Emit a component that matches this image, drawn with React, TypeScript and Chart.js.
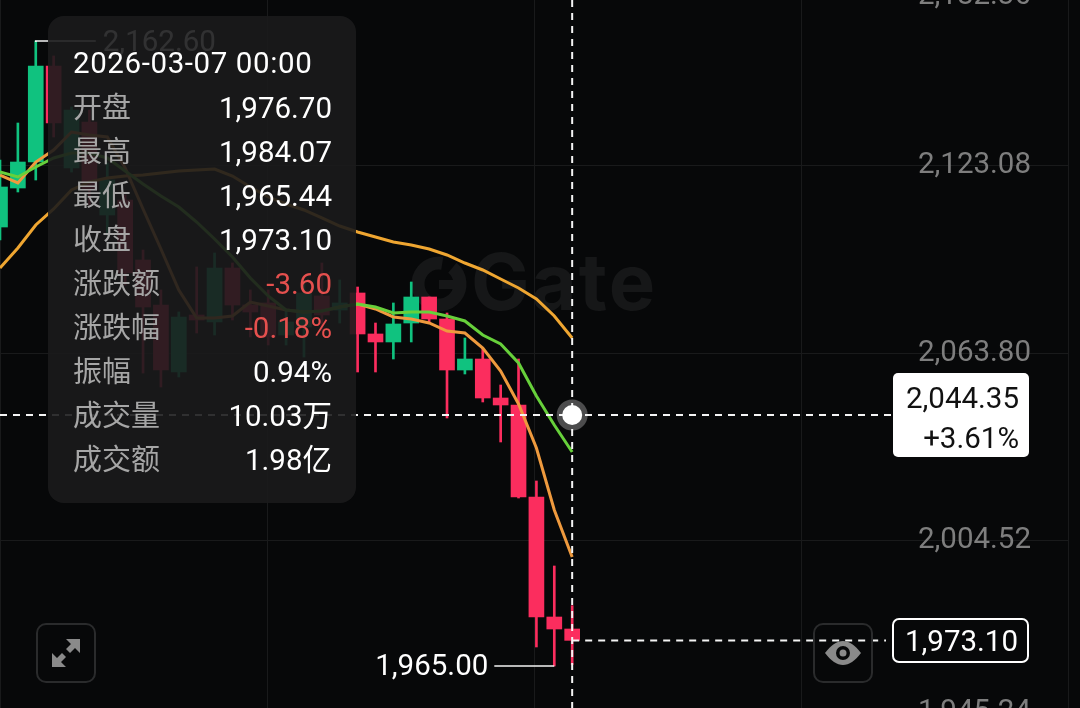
import React, { useEffect, useRef } from "react";
import { Chart, registerables } from "chart.js";

Chart.register(...registerables);

const opens = [2103.79, 2116.12, 2124.34, 2154.7, 2122.45, 2136.99, 2107.59, 2112.33, 2093.36, 2079.13, 2057.95, 2075.97, 2073.76, 2090.83, 2079.13, 2079.77, 2069.65, 2072.18, 2081.98, 2077.55, 2082.93, 2069.97, 2067.44, 2073.44, 2081.66, 2074.71, 2058.58, 2062.06, 2049.73, 2047.52, 2018.43, 1980.49, 1976.7];
const highs = [2124.98, 2136.67, 2162.6, 2157.86, 2141.73, 2140.79, 2124.03, 2113.91, 2096.52, 2083.88, 2076.92, 2091.15, 2095.57, 2092.41, 2083.88, 2083.88, 2077.55, 2087.04, 2092.41, 2087.04, 2084.82, 2073.44, 2079.77, 2086.41, 2081.66, 2076.6, 2068.7, 2065.54, 2053.84, 2062.06, 2023.49, 1996.62, 1984.07];
const lows = [2099.68, 2114.86, 2118.65, 2132.25, 2121.18, 2110.75, 2101.27, 2085.46, 2057.63, 2053.21, 2056.37, 2070.28, 2069.65, 2074.39, 2069.02, 2066.49, 2066.49, 2062.69, 2071.23, 2073.44, 2057.95, 2057.95, 2062.06, 2067.44, 2073.76, 2043.41, 2057.32, 2048.47, 2035.82, 2018.11, 1971.01, 1965.0, 1965.44];
const closes = [2116.44, 2124.34, 2154.7, 2136.67, 2140.79, 2115.49, 2118.65, 2089.25, 2078.5, 2058.58, 2075.34, 2074.39, 2090.83, 2079.13, 2076.92, 2069.02, 2073.76, 2082.93, 2075.97, 2079.77, 2069.97, 2067.44, 2073.13, 2081.66, 2074.71, 2058.58, 2062.06, 2049.73, 2047.52, 2018.43, 1980.49, 1976.7, 1973.1];

const maLong = [2090.83, 2097.15, 2104.43, 2109.49, 2115.49, 2118.02, 2119.29, 2119.92, 2120.23, 2120.87, 2121.5, 2121.82, 2122.13, 2119.92, 2116.44, 2113.28, 2111.07, 2109.17, 2106.64, 2104.11, 2102.21, 2100.63, 2099.05, 2098.1, 2096.84, 2094.94, 2092.41, 2090.2, 2087.35, 2084.51, 2081.03, 2075.66, 2068.7];
const maShort = [2120.23, 2117.71, 2124.34, 2128.14, 2133.83, 2132.88, 2132.25, 2122.45, 2109.49, 2096.84, 2083.88, 2075.02, 2075.02, 2075.66, 2080.08, 2078.82, 2077.55, 2076.92, 2077.24, 2078.5, 2079.45, 2077.87, 2075.34, 2074.71, 2073.44, 2070.91, 2070.28, 2065.54, 2058.27, 2047.83, 2033.92, 2014.32, 1999.46];
const maMid = [2121.18, 2119.6, 2122.76, 2125.61, 2127.19, 2127.19, 2125.61, 2121.5, 2117.39, 2113.6, 2110.12, 2105.37, 2100.0, 2094.31, 2087.67, 2081.98, 2077.55, 2076.92, 2077.24, 2078.5, 2079.45, 2078.5, 2076.6, 2076.92, 2076.92, 2075.66, 2074.08, 2069.65, 2066.8, 2060.8, 2050.36, 2041.19, 2032.66];

const yTickAnchors = [2176.51, 2123.08, 2063.8, 2004.52, 1950.14];
const yTickLabels = ["2,182.36", "2,123.08", "2,063.80", "2,004.52", "1,945.24"];
const gridColumns = [0, 267, 534, 801, 1068];

const crosshairIndex = 32;
const crosshairPrice = 2044.35;
const lastPrice = 1973.1;
const highestIndex = 2;
const highestPrice = 2162.6;
const lowestIndex = 31;
const lowestPrice = 1965.0;

const panelTitle = "2026-03-07 00:00";
const panelKeys = ["开盘", "最高", "最低", "收盘", "涨跌额", "涨跌幅", "振幅", "成交量", "成交额"];
const panelValues = ["1,976.70", "1,984.07", "1,965.44", "1,973.10", "-3.60", "-0.18%", "0.94%", "10.03万", "1.98亿"];
const panelNegative = ["-3.60", "-0.18%"];

const UP = "#10c27f";
const DOWN = "#fb2d5e";
const FONT = 'Roboto, "Noto Sans CJK SC", sans-serif';
const PAGE = "#070809";

const candleColors = opens.map((o, i) => (closes[i] >= o ? UP : DOWN));

const markupPlugin = {
  id: "markup",
  beforeDatasetsDraw(chart: any) {
    const { ctx } = chart;
    ctx.save();
    ctx.fillStyle = "#161718";
    ctx.strokeStyle = "#161718";
    ctx.lineWidth = 13;
    ctx.beginPath();
    ctx.arc(439, 284, 21, -Math.PI * 0.28, Math.PI * 1.55);
    ctx.stroke();
    ctx.fillRect(439, 280, 22, 9);
    ctx.font = `700 78px Inter, sans-serif`;
    (ctx as any).letterSpacing = "2px";
    ctx.textAlign = "left";
    ctx.textBaseline = "alphabetic";
    ctx.fillText("Gate", 471, 310);
    ctx.restore();
  },
  afterDatasetsDraw(chart: any) {
    const { ctx, scales } = chart;
    const x = scales.x;
    const y = scales.y;
    const cx = x.getPixelForValue(crosshairIndex);
    const cy = y.getPixelForValue(crosshairPrice);
    const ly = y.getPixelForValue(lastPrice);
    const hy = y.getPixelForValue(highestPrice);
    const hx = x.getPixelForValue(highestIndex);
    const lowY = y.getPixelForValue(lowestPrice);
    const lowX = x.getPixelForValue(lowestIndex);
    ctx.save();
    ctx.strokeStyle = "#f4f4f4";
    ctx.lineWidth = 2;
    ctx.setLineDash([7, 6]);
    ctx.beginPath();
    ctx.moveTo(cx, 0);
    ctx.lineTo(cx, 708);
    ctx.moveTo(0, cy);
    ctx.lineTo(893, cy);
    ctx.moveTo(cx, ly);
    ctx.lineTo(886, ly);
    ctx.stroke();
    ctx.setLineDash([]);
    ctx.lineWidth = 1.6;
    ctx.beginPath();
    ctx.moveTo(hx, hy + 1);
    ctx.lineTo(hx, hy);
    ctx.lineTo(hx + 60, hy);
    ctx.moveTo(lowX, lowY);
    ctx.lineTo(lowX - 60, lowY);
    ctx.stroke();
    ctx.font = `400 29.5px ${FONT}`;
    ctx.textBaseline = "middle";
    ctx.fillStyle = "#ffffff";
    ctx.textAlign = "left";
    ctx.fillText("2,162.60", hx + 67, hy + 3);
    ctx.textAlign = "right";
    ctx.fillText("1,965.00", lowX - 66, lowY + 2);
    ctx.fillStyle = "rgba(255,255,255,0.28)";
    ctx.beginPath();
    ctx.arc(cx, cy, 15.5, 0, Math.PI * 2);
    ctx.fill();
    ctx.fillStyle = "#ffffff";
    ctx.beginPath();
    ctx.arc(cx, cy, 10, 0, Math.PI * 2);
    ctx.fill();
    ctx.restore();
  },
};

export default function App() {
  const ref = useRef<HTMLCanvasElement | null>(null);

  useEffect(() => {
    const toPoints = (vals: number[]) => vals.map((v, i) => ({ x: i, y: v }));
    const line = (label: string, vals: number[], color: string, order: number) => ({
      type: "line",
      label,
      data: toPoints(vals),
      borderColor: color,
      borderWidth: 3,
      pointRadius: 0,
      tension: 0,
      order,
      xAxisID: "x",
      yAxisID: "y",
    });
    const chart = new Chart(ref.current as HTMLCanvasElement, {
      type: "bar",
      data: {
        datasets: [
          {
            type: "bar",
            label: "wick",
            data: lows.map((l, i) => ({ x: i, y: [l, highs[i]] })),
            backgroundColor: candleColors,
            barThickness: 2,
            grouped: false,
            order: 5,
            xAxisID: "x",
            yAxisID: "y",
          },
          {
            type: "bar",
            label: "body",
            data: opens.map((o, i) => ({ x: i, y: [o, closes[i]] })),
            backgroundColor: candleColors,
            barThickness: 15,
            grouped: false,
            order: 4,
            xAxisID: "x",
            yAxisID: "y",
          },
          line("MA long", maLong, "#efa631", 3),
          line("MA short", maShort, "#ef9a3e", 2),
          line("MA mid", maMid, "#67d03b", 1),
        ] as any,
      },
      options: {
        responsive: false,
        animation: false,
        layout: { padding: { left: 0, top: 0, bottom: 0, right: 12 } },
        plugins: { legend: { display: false }, tooltip: { enabled: false } },
        scales: {
          x: {
            type: "linear",
            display: false,
            offset: false,
            min: 0,
            max: 59.73,
            grid: { display: false, offset: false },
          },
          gridX: {
            type: "linear",
            axis: "x",
            position: "bottom",
            offset: false,
            min: 0,
            max: 1068,
            afterBuildTicks: (axis: any) => {
              axis.ticks = gridColumns.map((value) => ({ value }));
            },
            afterFit: (axis: any) => {
              axis.height = 0;
              axis.paddingLeft = 0;
              axis.paddingRight = 0;
              axis.paddingTop = 0;
              axis.paddingBottom = 0;
            },
            grid: { color: "#191a1b", lineWidth: 1, drawTicks: false, offset: false },
            border: { display: false },
            ticks: { display: false },
          },
          y: {
            type: "linear",
            position: "right",
            min: 1951.72,
            max: 2175.56,
            afterBuildTicks: (axis: any) => {
              axis.ticks = yTickAnchors.map((value) => ({ value }));
            },
            afterFit: (axis: any) => {
              axis.width = 0;
              axis.paddingLeft = 0;
              axis.paddingRight = 0;
              axis.paddingTop = 0;
              axis.paddingBottom = 0;
            },
            grid: { color: "#191a1b", lineWidth: 1, drawTicks: false },
            border: { display: false },
            ticks: {
              mirror: true,
              padding: -37,
              autoSkip: false,
              color: "#7e7e7e",
              font: { family: FONT, size: 29.5, weight: 400 },
              callback: (_v: any, i: number) => yTickLabels[i],
            },
          },
        },
      } as any,
      plugins: [markupPlugin as any],
    });
    return () => chart.destroy();
  }, []);

  const abs = (o: React.CSSProperties): React.CSSProperties => ({ position: "absolute", ...o });
  const rowY = (i: number) => 107 + i * 44 - 19;

  return (
    <div style={{ position: "fixed", left: 0, top: 0, width: 1080, height: 708, overflow: "hidden", background: PAGE, fontFamily: FONT, fontSize: 29.5 }}>
      <canvas ref={ref} width={1080} height={708} style={{ display: "block", width: 1080, height: 708 }} />
      <div style={abs({ left: 48, top: 16, width: 308, height: 487, borderRadius: 16, background: "rgba(27,27,28,0.9)" })} />
      <div style={abs({ left: 73, top: 43, lineHeight: "40px", color: "#fff", whiteSpace: "nowrap", letterSpacing: 0.6 })}>{panelTitle}</div>
      {panelKeys.map((k, i) => (
        <React.Fragment key={k}>
          <div style={abs({ left: 73, top: rowY(i), lineHeight: "40px", fontSize: 29, color: "#a6a6a6", whiteSpace: "nowrap" })}>{k}</div>
          <div style={abs({ right: 1080 - 332, top: rowY(i), lineHeight: "40px", color: panelNegative.includes(panelValues[i]) ? "#e5504e" : "#fff", whiteSpace: "nowrap" })}>{panelValues[i]}</div>
        </React.Fragment>
      ))}
      <div style={abs({ left: 893, top: 373, width: 136, height: 84, borderRadius: 5, background: "#fff" })} />
      <div style={abs({ right: 1080 - 1019, top: 378, lineHeight: "40px", color: "#111" })}>2,044.35</div>
      <div style={abs({ right: 1080 - 1019, top: 418, lineHeight: "40px", color: "#111" })}>+3.61%</div>
      <div style={abs({ left: 892, top: 618, width: 133, height: 41, border: "2px solid #fff", borderRadius: 7, background: PAGE })} />
      <div style={abs({ right: 1080 - 1018, top: 621, lineHeight: "40px", color: "#fff" })}>1,973.10</div>
      <div style={abs({ left: 36, top: 623, width: 56, height: 56, border: "2px solid #2a2b2c", borderRadius: 10 })} />
      <svg style={abs({ left: 36, top: 623 })} width="60" height="60" viewBox="0 0 60 60">
        <g fill="#8a8a8a">
          <path d="M44 16 L44 30 L39 25 L34 30 L30 26 L35 21 L30 16 Z" />
          <path d="M16 44 L16 30 L21 35 L26 30 L30 34 L25 39 L30 44 Z" />
        </g>
      </svg>
      <div style={abs({ left: 813, top: 623, width: 56, height: 56, border: "2px solid #2a2b2c", borderRadius: 10 })} />
      <svg style={abs({ left: 813, top: 623 })} width="60" height="60" viewBox="0 0 60 60">
        <path fillRule="evenodd" fill="#8a8a8a" d="M12 30 C18 22 24 18 30 18 C36 18 42 22 48 30 C42 38 36 42 30 42 C24 42 18 38 12 30 Z M30 23 A7 7 0 1 0 30 37 A7 7 0 1 0 30 23 Z M30 26.5 A3.5 3.5 0 1 1 30 33.5 A3.5 3.5 0 1 1 30 26.5 Z" />
      </svg>
    </div>
  );
}
